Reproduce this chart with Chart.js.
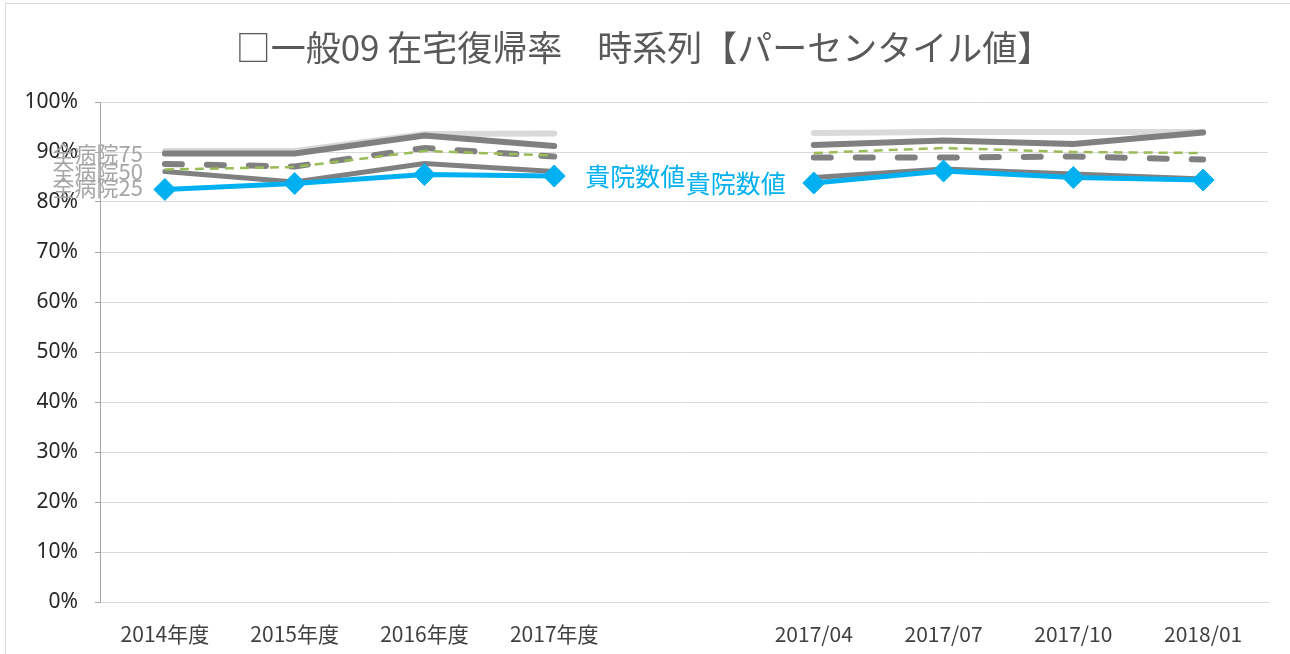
<!DOCTYPE html>
<html>
<head>
<meta charset="utf-8">
<script src="https://cdn.jsdelivr.net/npm/chart.js@4.4.1/dist/chart.umd.min.js"></script>
<style>
  html, body { margin: 0; padding: 0; background: #fff; }
  #wrap { position: absolute; left: 0; top: 0; width: 1290px; height: 654px; }
  #frame { position: absolute; left: 5px; top: 3px; width: 1300px; height: 700px; border: 1px solid #d9d9d9; box-sizing: border-box; pointer-events: none; }
</style>
</head>
<body>
<div id="wrap">
  <canvas id="trendChart" width="1290" height="654"></canvas>
  <div id="frame"></div>
</div>
<script>
// カテゴリ（年度と四半期の間に空欄を1つ）
var categories = ['2014年度', '2015年度', '2016年度', '2017年度', '', '2017/04', '2017/07', '2017/10', '2018/01'];

// パーセンタイル値 (%)
var p90 = [90.2, 90.2, 93.6, 93.7, null, 93.8, 94.0, 94.0, 94.0];
var p75 = [89.7, 89.7, 93.3, 91.2, null, 91.4, 92.3, 91.6, 93.9];
var pMean = [87.6, 87.1, 90.8, 89.1, null, 88.9, 88.9, 89.1, 88.5];
var p50 = [86.5, 87.0, 90.2, 89.3, null, 89.8, 90.8, 90.0, 89.8];
var p25 = [86.1, 84.0, 87.7, 86.1, null, 84.9, 86.6, 85.6, 84.6];
var kiin = [82.5, 83.7, 85.5, 85.2, null, 83.8, 86.2, 84.9, 84.4];

var yTicks = [0, 10, 20, 30, 40, 50, 60, 70, 80, 90, 100];

var jpFont = '"Noto Sans CJK JP", "Noto Sans", sans-serif';
var numFont = '"Noto Sans", "Noto Sans CJK JP", sans-serif';

// 系列名ラベル（Excel のデータラベル風）
var seriesLabels = {
    id: 'seriesLabels',
    afterDatasetsDraw: function(chart) {
        var ctx = chart.ctx;
        var x = chart.scales.x;
        var y = chart.scales.y;
        ctx.save();
        ctx.textBaseline = 'middle';

        // 全病院ラベル（左端）
        ctx.font = '22px ' + jpFont;
        ctx.fillStyle = '#a6a6a6';
        ctx.textAlign = 'right';
        var x0 = x.getPixelForValue(0) - 22;
        ctx.fillText('全病院25', x0, y.getPixelForValue(p25[0]) + 16);
        ctx.fillText('全病院50', x0, y.getPixelForValue(p50[0]) + 2);
        ctx.fillText('全病院75', x0, y.getPixelForValue(p75[0]));

        // 貴院数値ラベル
        ctx.font = '25px ' + jpFont;
        ctx.fillStyle = '#00b0f0';
        ctx.textAlign = 'left';
        ctx.fillText('貴院数値', x.getPixelForValue(3) + 31, y.getPixelForValue(kiin[3]));
        ctx.textAlign = 'right';
        ctx.fillText('貴院数値', x.getPixelForValue(5) - 28, y.getPixelForValue(kiin[5]));
        ctx.restore();
    }
};

var trendCtx = document.getElementById('trendChart').getContext('2d');
var trendChart = new Chart(trendCtx, {
    type: 'line',
    data: {
        labels: categories,
        datasets: [
            {
                label: '貴院数値',
                data: kiin,
                borderColor: '#00b0f0',
                backgroundColor: '#00b0f0',
                borderWidth: 5,
                pointStyle: 'rectRot',
                pointRadius: 11,
                pointBorderWidth: 1,
                pointBorderColor: '#00b0f0',
                tension: 0
            },
            {
                label: '全病院50',
                data: p50,
                borderColor: '#9bbb59',
                borderWidth: 2.5,
                borderDash: [9, 6],
                pointRadius: 0
            },
            {
                label: '全病院25',
                data: p25,
                borderColor: '#808080',
                borderWidth: 5,
                pointRadius: 0,
                borderCapStyle: 'round'
            },
            {
                label: '全病院平均',
                data: pMean,
                borderColor: '#808080',
                borderWidth: 6,
                borderDash: [17, 25],
                borderCapStyle: 'round',
                pointRadius: 0
            },
            {
                label: '全病院75',
                data: p75,
                borderColor: '#808080',
                borderWidth: 6,
                borderCapStyle: 'round',
                pointRadius: 0
            },
            {
                label: '全病院90',
                data: p90,
                borderColor: '#d9d9d9',
                borderWidth: 6,
                borderCapStyle: 'round',
                pointRadius: 0
            }
        ]
    },
    options: {
        responsive: false,
        animation: false,
        spanGaps: false,
        layout: { padding: { left: 20, right: 22, top: 0, bottom: 0 } },
        plugins: {
            legend: { display: false },
            tooltip: { enabled: false },
            title: {
                display: true,
                text: '□一般09 在宅復帰率　時系列【パーセンタイル値】',
                color: '#595959',
                font: { family: jpFont, size: 35, weight: 'normal' },
                padding: { top: 27, bottom: 33 }
            }
        },
        scales: {
            x: {
                offset: true,
                grid: { display: false, drawTicks: false },
                border: { color: '#d9d9d9', width: 1 },
                ticks: {
                    color: '#404040',
                    font: { family: jpFont, size: 21 },
                    padding: 19,
                    maxRotation: 0,
                    autoSkip: false
                },
                afterFit: function(scale) { scale.height = 52; }
            },
            y: {
                min: 0,
                max: 100,
                afterBuildTicks: function(scale) {
                    scale.ticks = yTicks.map(function(v) { return { value: v }; });
                },
                grid: { color: '#d9d9d9', tickLength: 5, tickColor: '#a6a6a6' },
                border: { color: '#a6a6a6', width: 1 },
                ticks: {
                    color: '#262626',
                    font: { family: numFont, size: 21 },
                    padding: 17,
                    callback: function(v) { return v + '%'; }
                },
                afterFit: function(scale) { scale.width = 80; }
            }
        }
    },
    plugins: [seriesLabels]
});
</script>
</body>
</html>
